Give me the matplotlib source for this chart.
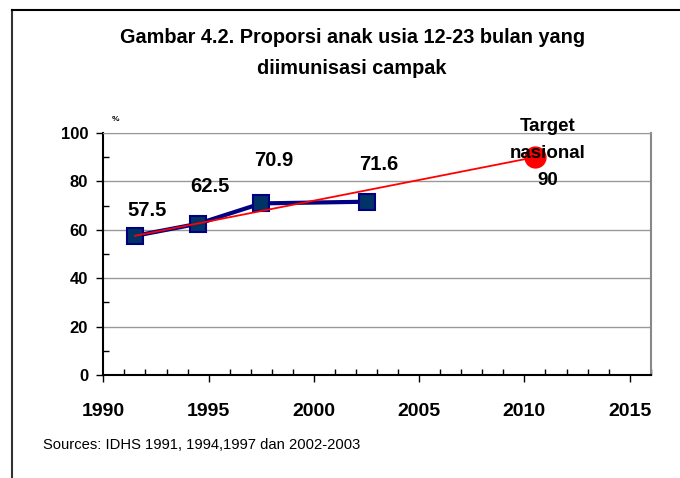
"""Gambar 4.2: proporsi anak usia 12-23 bulan yang diimunisasi campak."""
import matplotlib
matplotlib.use("Agg")
import matplotlib.pyplot as plt
from matplotlib.lines import Line2D
from matplotlib.ticker import MultipleLocator

# data (tahun survei IDHS, diplot di tengah tahun)
tahun = [1991.5, 1994.5, 1997.5, 2002.5]
proporsi = [57.5, 62.5, 70.9, 71.6]
label_nilai = ["57.5", "62.5", "70.9", "71.6"]

tahun_target = 2010.5
nilai_target = 90

tahun_ticks = [1990, 1995, 2000, 2005, 2010, 2015]
nilai_ticks = [0, 20, 40, 60, 80, 100]

# jarak label nilai di atas titik (satuan sumbu y)
geser_label = [10.5, 15.2, 17.9, 15.2]

plt.rcParams["font.family"] = ["Liberation Sans", "DejaVu Sans"]

fig = plt.figure(figsize=(6.8, 4.78), dpi=100)
ax = fig.add_axes([0.152, 0.2155, 0.805, 0.5063])

ax.set_xlim(1990, 2016)
ax.set_ylim(0, 100)

for v in nilai_ticks[1:]:
    ax.axhline(v, color="#999999", lw=1, zorder=0)

# garis tren ke target
ax.plot([tahun[0], tahun_target], [proporsi[0], nilai_target],
        color="red", lw=1.3, zorder=3)
ax.plot(tahun, proporsi, color="#000080", lw=3, marker="s", ms=11,
        mfc="#003366", mec="#000080", mew=1.5, zorder=2)
ax.plot([tahun_target], [nilai_target], "o", color="red", ms=15, zorder=4)

for x, y, t, d in zip(tahun, proporsi, label_nilai, geser_label):
    ax.text(x + 0.57, y + d, t, ha="center", va="center",
            fontsize=14.5, fontweight="bold")
ax.text(tahun_target + 0.6, nilai_target + 1.5, "Target\nnasional\n90",
        ha="center", va="center", fontsize=13.5, fontweight="bold",
        linespacing=1.75, zorder=5)

ax.text(1990.4, 104, "%", fontsize=6, fontweight="bold", va="bottom")

ax.set_xticks(tahun_ticks)
ax.set_yticks(nilai_ticks)
ax.xaxis.set_minor_locator(MultipleLocator(1))
ax.yaxis.set_minor_locator(MultipleLocator(10))
ax.tick_params(axis="both", which="major", direction="out", length=5,
               width=1, labelsize=12)
ax.tick_params(axis="both", which="minor", direction="in", length=4, width=1)
ax.tick_params(axis="x", which="major", pad=15, labelsize=14)
ax.tick_params(axis="y", which="major", pad=6)
for lbl in ax.get_xticklabels() + ax.get_yticklabels():
    lbl.set_fontweight("bold")

ax.spines["left"].set_color("black")
ax.spines["bottom"].set_color("black")
ax.spines["left"].set_linewidth(1.5)
ax.spines["bottom"].set_linewidth(1.5)
ax.spines["top"].set_color("#999999")
ax.spines["right"].set_color("#888888")
ax.spines["right"].set_linewidth(1.5)

fig.text(0.518, 0.89, "Gambar 4.2. Proporsi anak usia 12-23 bulan yang\ndiimunisasi campak",
         ha="center", va="center", fontsize=14.3, fontweight="bold",
         linespacing=1.8)
fig.text(0.063, 0.069, "Sources: IDHS 1991, 1994,1997 dan 2002-2003",
         fontsize=10.6, va="center")

# bingkai kiri dan atas
fig.add_artist(Line2D([12 / 680, 12 / 680], [0, 1 - 10 / 478],
                      transform=fig.transFigure, color="#333333", lw=1.5))
fig.add_artist(Line2D([12 / 680, 1], [1 - 10 / 478, 1 - 10 / 478],
                      transform=fig.transFigure, color="black", lw=1.5))

fig.savefig("out.png", dpi=100)
